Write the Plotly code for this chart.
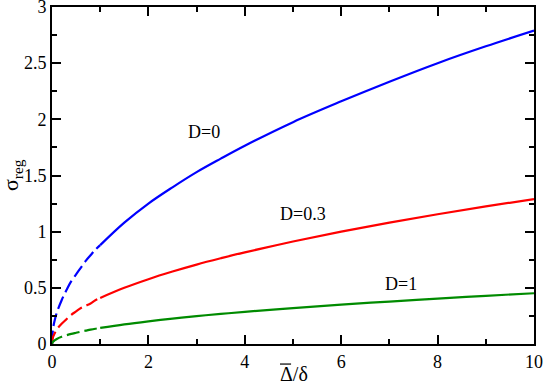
import plotly.graph_objects as go

# dashed region
x_dash = [0, 0.02, 0.05, 0.1, 0.2, 0.3, 0.4, 0.5, 0.6, 0.7, 0.8, 0.9, 1.0]
blue_dash = [0, 0.13, 0.20, 0.28, 0.39, 0.48, 0.56, 0.62, 0.68, 0.74, 0.79, 0.84, 0.88]
red_dash = [0, 0.06, 0.09, 0.13, 0.18, 0.22, 0.26, 0.29, 0.32, 0.34, 0.36, 0.39, 0.41]
green_dash = [0, 0.02, 0.03, 0.045, 0.064, 0.078, 0.09, 0.10, 0.11, 0.119, 0.128, 0.136, 0.143]

# solid region
x_solid = [1.0, 1.5, 2, 2.5, 3, 3.5, 4, 5, 6, 7, 8, 9, 10]
blue_solid = [0.88, 1.08, 1.25, 1.395, 1.53, 1.65, 1.765, 1.975, 2.16, 2.335, 2.50, 2.65, 2.79]
red_solid = [0.41, 0.50, 0.577, 0.645, 0.707, 0.763, 0.816, 0.912, 1.00, 1.08, 1.155, 1.225, 1.29]
green_solid = [0.143, 0.175, 0.202, 0.226, 0.248, 0.268, 0.286, 0.32, 0.35, 0.378, 0.404, 0.429, 0.452]

labels = ["D=0", "D=0.3", "D=1"]
label_x = [3.16, 5.2, 7.25]
label_y = [1.89, 1.16, 0.53]
colors = ["#0000ff", "#ff0000", "#008b00"]

font_family = "Liberation Serif"

fig = go.Figure()
for yd, ys, c in zip([blue_dash, red_dash, green_dash],
                     [blue_solid, red_solid, green_solid], colors):
    fig.add_trace(go.Scatter(x=x_dash, y=yd, mode="lines", line_shape="spline",
                             line=dict(color=c, width=2.2, dash="13px,5px"),
                             showlegend=False, hoverinfo="skip"))
    fig.add_trace(go.Scatter(x=x_solid, y=ys, mode="lines", line_shape="spline",
                             line=dict(color=c, width=2.2),
                             showlegend=False, hoverinfo="skip"))

for t, lx, ly in zip(labels, label_x, label_y):
    fig.add_annotation(x=lx, y=ly, text=t, showarrow=False,
                       font=dict(family=font_family, size=18, color="black"))

# x-axis title: Delta with overline, over delta
fig.add_annotation(xref="paper", yref="paper", x=0.502, y=-0.05, yanchor="top",
                   text="\u0394/\u03b4", showarrow=False,
                   font=dict(family=font_family, size=20, color="black"))
fig.add_shape(type="line", xref="paper", yref="paper",
              x0=0.473, x1=0.496, y0=-0.0595, y1=-0.0595,
              line=dict(color="black", width=1.2))

# y-axis title
fig.add_annotation(xref="paper", yref="paper", x=-0.084, y=0.5,
                   xanchor="center", yanchor="middle", textangle=-90,
                   text="\u03c3<sub>reg</sub>", showarrow=False,
                   font=dict(family=font_family, size=22, color="black"))

axis_common = dict(
    showgrid=False, zeroline=False, showline=True, linecolor="black", linewidth=2,
    mirror="ticks", ticks="inside", ticklen=9, tickwidth=1.5, tickcolor="black",
    tickfont=dict(family=font_family, size=18, color="black"),
    automargin=False, ticklabeloverflow="allow",
)

fig.update_xaxes(range=[0, 10], tick0=0, dtick=2,
                 minor=dict(dtick=1, ticklen=5, tickwidth=1.5, tickcolor="black", ticks="inside"),
                 **axis_common)
fig.update_yaxes(range=[0, 3], tick0=0, dtick=0.5,
                 minor=dict(dtick=0.25, ticklen=5, tickwidth=1.5, tickcolor="black", ticks="inside"),
                 **axis_common)

fig.update_layout(
    width=545, height=383,
    margin=dict(l=52, r=11, t=7, b=39),
    plot_bgcolor="white", paper_bgcolor="white",
)

fig.write_html("out.html", config={"displayModeBar": False},
               post_script="document.body.style.margin='0';document.body.style.overflow='hidden';")
